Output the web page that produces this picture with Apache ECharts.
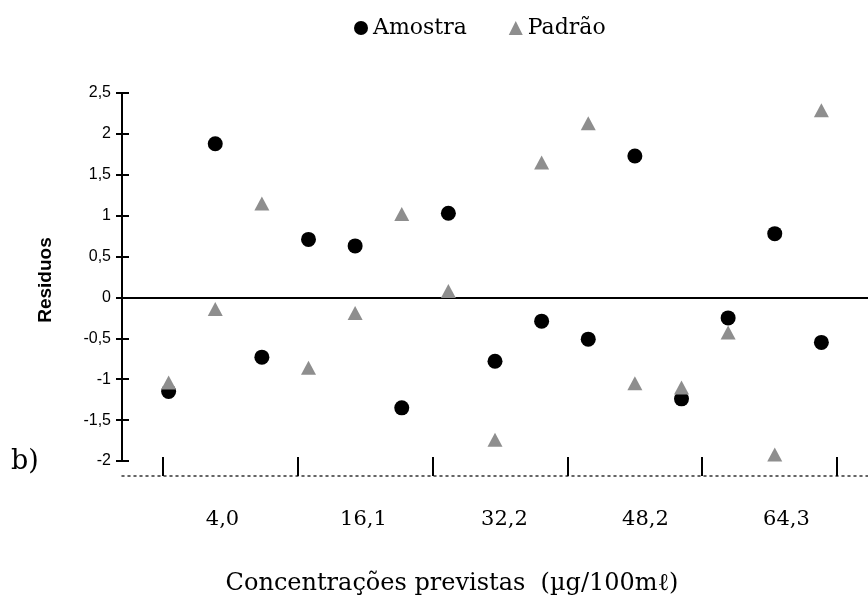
<!DOCTYPE html>
<html><head><meta charset="utf-8">
<script src="https://cdn.jsdelivr.net/npm/echarts@6/dist/echarts.min.js"></script>
<style>html,body{margin:0;padding:0;background:#fff}#c{width:868px;height:599px}</style>
</head><body><div id="c"></div>
<script>
// Data (residuals per sample, 3 replicates per concentration level)
const concentrations = ['4,0', '16,1', '32,2', '48,2', '64,3'];
const pointIndex = [1, 2, 3, 4, 5, 6, 7, 8, 9, 10, 11, 12, 13, 14, 15];
const amostra = [-1.15, 1.88, -0.73, 0.71, 0.63, -1.35, 1.03, -0.78, -0.29, -0.51, 1.73, -1.24, -0.25, 0.78, -0.55];
const padrao  = [-1.04, -0.14, 1.15, -0.86, -0.19, 1.02, 0.08, -1.74, 1.65, 2.13, -1.05, -1.10, -0.43, -1.92, 2.29];
const yTicks = [-2, -1.5, -1, -0.5, 0, 0.5, 1, 1.5, 2, 2.5];
const yTickLabels = ['-2', '-1,5', '-1', '-0,5', '0', '0,5', '1', '1,5', '2', '2,5'];
const xTitle = 'Concentrações previstas  (µg/100mℓ)';
const yTitle = 'Residuos';

const chart = echarts.init(document.getElementById('c'), null, {renderer: 'canvas'});
const serif = 'DejaVu Serif';
const sans = 'Liberation Sans';
const gridTop = 93, gridBottom = 138;

function yLabel(v) {
  const i = yTicks.indexOf(Math.round(v * 2) / 2);
  return i >= 0 ? yTickLabels[i] : '';
}

chart.setOption({
  animation: false,
  backgroundColor: '#fff',
  legend: {
    data: ['Amostra', 'Padrão'],
    left: 349, top: 12,
    itemWidth: 14, itemHeight: 14, itemGap: 42,
    textStyle: {fontFamily: serif, fontSize: 22, color: '#000'}
  },
  grid: [
    {left: 122, right: 0, top: gridTop, bottom: gridBottom},
    {left: 163, right: 31, top: gridTop, bottom: gridBottom},
    {left: 152, right: 11, top: gridTop, bottom: gridBottom},
    {left: 129, right: 0, top: gridTop, bottom: gridBottom}
  ],
  xAxis: [
    {gridIndex: 0, type: 'value', min: 0, max: 16, position: 'bottom',
      axisLine: {show: true, onZero: true, lineStyle: {color: '#000', width: 2}},
      axisTick: {show: false}, axisLabel: {show: false}, splitLine: {show: false}},
    {gridIndex: 0, type: 'value', min: 0, max: 16, position: 'bottom', offset: 15,
      axisLine: {show: true, onZero: false, lineStyle: {color: '#333', width: 1.5, type: [2, 4]}},
      axisTick: {show: false}, axisLabel: {show: false}, splitLine: {show: false}},
    {gridIndex: 1, type: 'category', data: concentrations, position: 'bottom', offset: 15,
      boundaryGap: true,
      axisLine: {show: false, onZero: false},
      axisTick: {show: true, inside: true, length: 19, interval: 0, alignWithLabel: false,
        lineStyle: {color: '#000', width: 2}},
      axisLabel: {show: false}, splitLine: {show: false}},
    {gridIndex: 2, type: 'category', data: concentrations, position: 'bottom', offset: 15,
      boundaryGap: true,
      axisLine: {show: false, onZero: false}, axisTick: {show: false},
      axisLabel: {show: true, interval: 0, margin: 33, fontFamily: serif, fontSize: 21, color: '#000'},
      splitLine: {show: false}},
    {gridIndex: 3, type: 'value', min: 0, max: 16, show: false}
  ],
  yAxis: [
    {gridIndex: 0, type: 'value', min: -2, max: 2.5, interval: 0.5, position: 'left',
      axisLine: {show: true, onZero: false, lineStyle: {color: '#000', width: 2}},
      axisTick: {show: true, inside: false, length: 6, lineStyle: {color: '#000', width: 2}},
      axisLabel: {show: true, margin: 11, fontFamily: sans, fontSize: 16, color: '#000', formatter: yLabel},
      splitLine: {show: false}},
    {gridIndex: 1, type: 'value', min: -2, max: 2.5, show: false},
    {gridIndex: 2, type: 'value', min: -2, max: 2.5, show: false},
    {gridIndex: 3, type: 'value', min: -2, max: 2.5, interval: 0.5, position: 'left',
      axisLine: {show: false, onZero: false},
      axisTick: {show: true, inside: false, length: 7, lineStyle: {color: '#000', width: 2}},
      axisLabel: {show: false}, splitLine: {show: false}}
  ],
  graphic: [
    {type: 'text', left: 11, top: 448, style: {text: 'b)', font: '27px "DejaVu Serif"', fill: '#000'}},
    {type: 'text', x: 46, y: 280, rotation: Math.PI / 2,
      style: {text: yTitle, font: 'bold 19px "Liberation Sans"', fill: '#000', align: 'center', verticalAlign: 'middle'}},
    {type: 'text', x: 452, y: 584,
      style: {text: xTitle, font: '24px "DejaVu Serif"', fill: '#000', align: 'center', verticalAlign: 'middle'}}
  ],
  series: [
    {name: 'Amostra', type: 'scatter', xAxisIndex: 0, yAxisIndex: 0,
      symbol: 'circle', symbolSize: 15,
      itemStyle: {color: '#000', opacity: 1},
      data: pointIndex.map((x, i) => [x, amostra[i]])},
    {name: 'Padrão', type: 'scatter', xAxisIndex: 0, yAxisIndex: 0,
      symbol: 'triangle', symbolSize: [15, 14],
      itemStyle: {color: '#8e8e8e', opacity: 1},
      data: pointIndex.map((x, i) => [x, padrao[i]])}
  ]
});
</script></body></html>
